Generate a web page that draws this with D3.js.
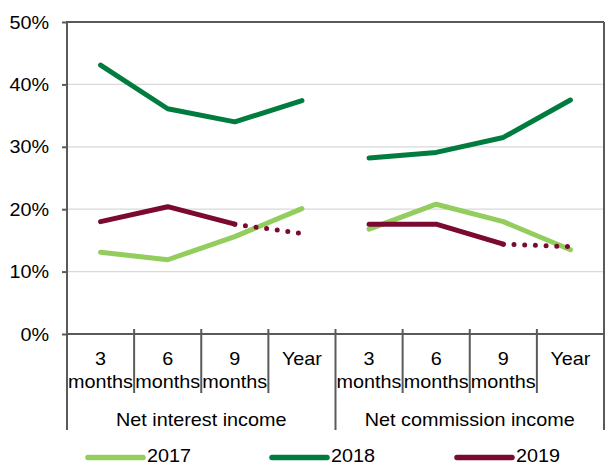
<!DOCTYPE html>
<html><head><meta charset="utf-8">
<script src="https://cdn.jsdelivr.net/npm/d3@7"></script>
<style>body{margin:0;background:#fff}svg{display:block}text{font-family:"Liberation Sans",Arial,sans-serif;fill:#000}</style>
</head><body>
<svg id="c" width="605" height="465"></svg>
<script>
const groups = ["Net interest income", "Net commission income"];
const periods = ["3 months", "6 months", "9 months", "Year"];
const periodLines = [["3", "months"], ["6", "months"], ["9", "months"], ["Year"]];
const values2017 = [13.1, 11.9, 15.6, 20.1, 16.8, 20.8, 18.0, 13.5];
const values2018 = [43.1, 36.1, 34.0, 37.4, 28.2, 29.1, 31.5, 37.5];
const values2019 = [18.0, 20.4, 17.6, 16.1, 17.6, 17.6, 14.4, 14.0];
const yTicks = [0, 10, 20, 30, 40, 50];
const seriesNames = ["2017", "2018", "2019"];
const colors = ["#92CD5E", "#007C3F", "#7A0A32"];

const svg = d3.select("#c");
const L = 67, R = 604, T = 22, B = 334;
const keys = [];
groups.forEach(g => periods.forEach(p => keys.push(g + "|" + p)));
const x = d3.scaleBand().domain(keys).range([L, R]);
const y = d3.scaleLinear().domain([0, 50]).range([B, T]);
const axisCol = "#5a5a5a";
const FS = 18, SX = 1.1;

function txt(parent, tx, ty, s, anchor) {
  return parent.append("text")
    .attr("transform", `translate(${tx},${ty}) scale(${SX},1)`)
    .attr("text-anchor", anchor || "middle")
    .attr("font-size", FS).text(s);
}

// gridlines
svg.append("g").selectAll("line").data(yTicks.filter(t => t > 0 && t < 50)).join("line")
  .attr("x1", L).attr("x2", R).attr("y1", d => y(d)).attr("y2", d => y(d))
  .attr("stroke", "#d9d9d9").attr("stroke-width", 1.3);
// top and right border
svg.append("line").attr("x1", L).attr("x2", R).attr("y1", y(50)).attr("y2", y(50)).attr("stroke", axisCol).attr("stroke-width", 2);
svg.append("line").attr("x1", R).attr("x2", R).attr("y1", T).attr("y2", 430).attr("stroke", axisCol).attr("stroke-width", 2);

// y axis
const yAxis = d3.axisLeft(y).tickValues(yTicks).tickSize(5).tickFormat(d => d + "%");
const ya = svg.append("g").attr("transform", `translate(${L},0)`).call(yAxis);
ya.select(".domain").remove();
ya.selectAll(".tick line").attr("stroke", axisCol).attr("stroke-width", 2);
ya.selectAll(".tick text").remove();
yTicks.forEach(t => txt(svg, 49, y(t) + 6.5, t + "%", "end"));
svg.append("line").attr("x1", L).attr("x2", L).attr("y1", T - 1).attr("y2", 430).attr("stroke", axisCol).attr("stroke-width", 2);

// x axis
svg.append("line").attr("x1", L).attr("x2", R).attr("y1", B).attr("y2", B).attr("stroke", axisCol).attr("stroke-width", 2);
keys.forEach((k, i) => {
  const x0 = x(k);
  if (i > 0) {
    const groupEdge = i % periods.length === 0;
    svg.append("line").attr("x1", x0).attr("x2", x0).attr("y1", B - 5).attr("y2", groupEdge ? 430 : 393)
      .attr("stroke", axisCol).attr("stroke-width", 2);
  }
  const cx = x0 + x.bandwidth() / 2;
  const lines = periodLines[i % periods.length];
  lines.forEach((s, j) => txt(svg, cx, 365 + j * 23, s));
});
groups.forEach((g, gi) => {
  const x0 = x(keys[gi * periods.length]);
  const x1 = x(keys[gi * periods.length + periods.length - 1]) + x.bandwidth();
  txt(svg, (x0 + x1) / 2, 426, g);
});

// lines
const line = d3.line().x(d => x(keys[d.i]) + x.bandwidth() / 2).y(d => y(d.v));
function drawSeries(vals, col, dottedLast) {
  groups.forEach((g, gi) => {
    const pts = periods.map((p, pi) => ({ i: gi * periods.length + pi, v: vals[gi * periods.length + pi] }));
    if (dottedLast) {
      svg.append("path").attr("d", line(pts.slice(0, 3))).attr("fill", "none").attr("stroke", col)
        .attr("stroke-width", 5).attr("stroke-linecap", "round").attr("stroke-linejoin", "round");
      svg.append("path").attr("d", line(pts.slice(2))).attr("fill", "none").attr("stroke", col)
        .attr("stroke-width", 5).attr("stroke-linecap", "round").attr("stroke-dasharray", "0,10.7")
        .attr("stroke-dashoffset", -10.7);
    } else {
      svg.append("path").attr("d", line(pts)).attr("fill", "none").attr("stroke", col)
        .attr("stroke-width", 5).attr("stroke-linecap", "round").attr("stroke-linejoin", "round");
    }
  });
}
drawSeries(values2017, colors[0], false);
drawSeries(values2018, colors[1], false);
drawSeries(values2019, colors[2], true);

// legend
const legX = [88, 272, 457];
seriesNames.forEach((s, i) => {
  svg.append("line").attr("x1", legX[i]).attr("x2", legX[i] + 55).attr("y1", 457.5).attr("y2", 457.5)
    .attr("stroke", colors[i]).attr("stroke-width", 5.5).attr("stroke-linecap", "round");
  txt(svg, legX[i] + 59, 462, s, "start");
});
</script>
</body></html>
